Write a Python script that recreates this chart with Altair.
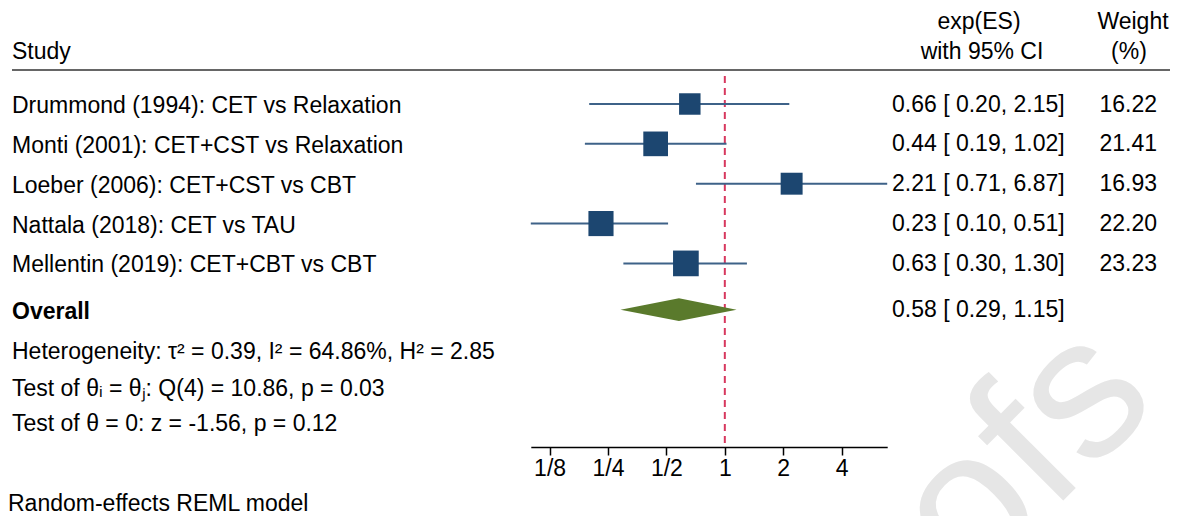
import altair as alt
import pandas as pd

# ---------------- data ----------------
studies = [
    "Drummond (1994): CET vs Relaxation",
    "Monti (2001): CET+CST vs Relaxation",
    "Loeber (2006): CET+CST vs CBT",
    "Nattala (2018): CET vs TAU",
    "Mellentin (2019): CET+CBT vs CBT",
]
es = [0.66, 0.44, 2.21, 0.23, 0.63]
ci_low = [0.20, 0.19, 0.71, 0.10, 0.30]
ci_high = [2.15, 1.02, 6.87, 0.51, 1.30]
weights = [16.22, 21.41, 16.93, 22.20, 23.23]

overall_label = "Overall"
overall_es = 0.58
overall_low = 0.29
overall_high = 1.15

stats_lines = [
    "Heterogeneity: \u03c4\u00b2 = 0.39, I\u00b2 = 64.86%, H\u00b2 = 2.85",
    "Test of \u03b8\u1d62 = \u03b8\u2c7c: Q(4) = 10.86, p = 0.03",
    "Test of \u03b8 = 0: z = -1.56, p = 0.12",
]
tick_values = [0.125, 0.25, 0.5, 1, 2, 4]
tick_labels = ["1/8", "1/4", "1/2", "1", "2", "4"]
null_value = [1]

header_study = "Study"
header_es = ["exp(ES)", "with 95% CI"]
header_w = ["Weight", "(%)"]
footnote = "Random-effects REML model"
watermark = "ofs"

# ---------------- layout ----------------
FONT = "Liberation Sans"
FS = 23
W, H, PAD_B = 1162, 439, 69
ROW0, ROW_PX = 96, 39.85
TXT_DY = 9

xscale = alt.Scale(type="log", base=2, domain=[0.1, 6.87], range=[522.8, 879.2], nice=False)
yscale = alt.Scale(domain=[0, 8], range=[ROW0, ROW0 + 8 * ROW_PX], zero=False, nice=False)

overall_row = 5.16
stat_rows = [6.17, 7.09, 7.97]

df = pd.DataFrame({
    "study": studies, "es": es, "lo": ci_low, "hi": ci_high, "w": weights,
    "row": list(range(len(studies))),
})
df["ci_text"] = [f"{a:.2f} [{b:5.2f},{c:5.2f}]" for a, b, c in zip(es, ci_low, ci_high)]
df["w_text"] = [f"{v:.2f}" for v in weights]

df_overall = pd.DataFrame({
    "label": [overall_label], "row": [overall_row],
    "ci_text": [f"{overall_es:.2f} [{overall_low:5.2f},{overall_high:5.2f}]"],
})
half = 0.285
df_diamond = pd.DataFrame({
    "x": [overall_low, overall_es, overall_high],
    "y": [overall_row, overall_row - half, overall_row],
    "y2": [overall_row, overall_row + half, overall_row],
})
df_stats = pd.DataFrame({"t": stats_lines, "row": stat_rows})
df_null = pd.DataFrame({"x": null_value, "top": [-0.7], "bottom": [8.6]})

label_expr = " : ".join(
    f"datum.value == {v} ? '{l}'" for v, l in zip(tick_values, tick_labels)
) + " : ''"

xaxis = alt.Axis(
    values=tick_values, labelExpr=label_expr, title=None, grid=False,
    domainColor="black", domainWidth=1.5, tickColor="black", tickWidth=1.5, tickSize=8,
    labelFont=FONT, labelFontSize=FS, labelColor="black", labelPadding=2,
    labelFlush=False, labelOverlap=False, orient="bottom",
)
noaxis = dict(axis=None)


def txt(**kw):
    base = dict(font=FONT, fontSize=FS, color="black", baseline="alphabetic")
    base.update(kw)
    return base


wm = alt.Chart(pd.DataFrame({"t": [watermark]})).mark_text(
    font=FONT, fontSize=200, angle=315, color="#e6e6e6", align="center", baseline="middle"
).encode(x=alt.value(1016), y=alt.value(447), text="t:N")

header_rule = alt.Chart(pd.DataFrame({"a": [0]})).mark_rule(color="#333333", strokeWidth=1.5).encode(
    x=alt.value(4), x2=alt.value(W), y=alt.value(62)
)

null_line = alt.Chart(df_null).mark_rule(color="#D7385E", strokeWidth=2, strokeDash=[7, 5]).encode(
    x=alt.X("x:Q", scale=xscale, axis=xaxis),
    y=alt.Y("top:Q", scale=yscale, **noaxis),
    y2="bottom:Q",
)

ci = alt.Chart(df).mark_rule(color="#3E6288", strokeWidth=2).encode(
    x=alt.X("lo:Q", scale=xscale, axis=xaxis),
    x2="hi:Q",
    y=alt.Y("row:Q", scale=yscale, **noaxis),
)

squares = alt.Chart(df).mark_point(shape="square", filled=True, opacity=1, color="#1C4670", strokeWidth=0).encode(
    x=alt.X("es:Q", scale=xscale, axis=xaxis),
    y=alt.Y("row:Q", scale=yscale, **noaxis),
    size=alt.Size("w:Q", scale=alt.Scale(type="linear", domain=[0, 100], range=[0, 2843]), legend=None),
)

diamond = alt.Chart(df_diamond).mark_area(color="#5A7A2C", orient="vertical", opacity=1).encode(
    x=alt.X("x:Q", scale=xscale, axis=xaxis),
    y=alt.Y("y:Q", scale=yscale, **noaxis),
    y2="y2:Q",
)

study_txt = alt.Chart(df).mark_text(**txt(align="left", dy=TXT_DY)).encode(
    x=alt.value(4), y=alt.Y("row:Q", scale=yscale, **noaxis), text="study:N"
)
overall_txt = alt.Chart(df_overall).mark_text(**txt(align="left", dy=TXT_DY, fontWeight="bold")).encode(
    x=alt.value(4), y=alt.Y("row:Q", scale=yscale, **noaxis), text="label:N"
)
ci_txt = alt.Chart(df).mark_text(**txt(align="left", dy=TXT_DY - 1.5)).encode(
    x=alt.value(884), y=alt.Y("row:Q", scale=yscale, **noaxis), text="ci_text:N"
)
overall_ci_txt = alt.Chart(df_overall).mark_text(**txt(align="left", dy=TXT_DY - 1.5)).encode(
    x=alt.value(884), y=alt.Y("row:Q", scale=yscale, **noaxis), text="ci_text:N"
)
w_txt = alt.Chart(df).mark_text(**txt(align="right", dy=TXT_DY - 1.5)).encode(
    x=alt.value(1149), y=alt.Y("row:Q", scale=yscale, **noaxis), text="w_text:N"
)
stats_txt = alt.Chart(df_stats).mark_text(**txt(align="left", dy=TXT_DY)).encode(
    x=alt.value(4), y=alt.Y("row:Q", scale=yscale, **noaxis), text="t:N"
)


def label(text, x, y, align):
    return alt.Chart(pd.DataFrame({"t": [text]})).mark_text(**txt(align=align)).encode(
        x=alt.value(x), y=alt.value(y), text="t:N"
    )


headers = [
    label(header_study, 4, 51, "left"),
    label(header_es[0], 971, 21, "center"),
    label(header_es[1], 974, 51, "center"),
    label(header_w[0], 1125, 21, "center"),
    label(header_w[1], 1121, 51, "center"),
    label(footnote, 0, 503, "left"),
]

chart = alt.layer(
    wm, header_rule, null_line, ci, squares, diamond,
    study_txt, overall_txt, ci_txt, overall_ci_txt, w_txt, stats_txt, *headers,
).properties(
    width=W, height=H,
    autosize=alt.AutoSizeParams(type="none"),
    padding={"left": 0, "top": 0, "right": 0, "bottom": PAD_B},
).configure_view(stroke=None)

chart.save("out.html", embed_options={"renderer": "svg", "actions": False})
